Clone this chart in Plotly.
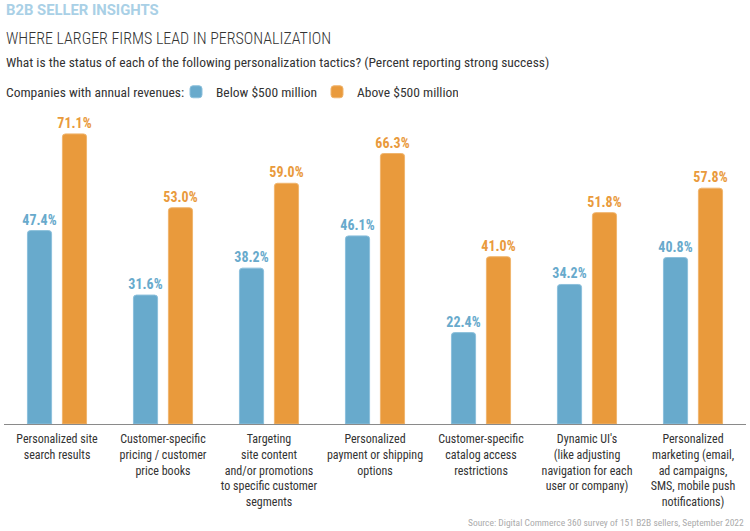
import plotly.graph_objects as go

categories = [
    "Personalized site<br>search results",
    "Customer-specific<br>pricing / customer<br>price books",
    "Targeting<br>site content<br>and/or promotions<br>to specific customer<br>segments",
    "Personalized<br>payment or shipping<br>options",
    "Customer-specific<br>catalog access<br>restrictions",
    "Dynamic UI's<br>(like adjusting<br>navigation for each<br>user or company)",
    "Personalized<br>marketing (email,<br>ad campaigns,<br>SMS, mobile push<br>notifications)",
]
below_500m = [47.4, 31.6, 38.2, 46.1, 22.4, 34.2, 40.8]
above_500m = [71.1, 53.0, 59.0, 66.3, 41.0, 51.8, 57.8]

BLUE = "#68aacc"
ORANGE = "#e99a3c"
FONT = "Roboto Condensed, DejaVu Sans Condensed, sans-serif"

fig = go.Figure()
fig.add_trace(go.Bar(
    x=categories, y=below_500m, name="Below $500 million",
    marker=dict(color=BLUE, line=dict(color="#8cc0dc", width=1)),
    text=[f"{v:.1f}%" for v in below_500m], textposition="outside",
    textfont=dict(family=FONT, size=14, color=BLUE, weight="bold"),
    constraintext="none", cliponaxis=False,
))
fig.add_trace(go.Bar(
    x=categories, y=above_500m, name="Above $500 million",
    marker=dict(color=ORANGE, line=dict(color="#f0b56e", width=1)),
    text=[f"{v:.1f}%" for v in above_500m], textposition="outside",
    textfont=dict(family=FONT, size=14, color=ORANGE, weight="bold"),
    constraintext="none", cliponaxis=False,
))

fig.update_layout(
    width=750, height=531,
    margin=dict(l=4, r=4, t=118, b=107),
    paper_bgcolor="white", plot_bgcolor="white",
    barmode="group", bargap=0.34, bargroupgap=0.31, barcornerradius=3,
    font=dict(family=FONT, color="#333333"),
    showlegend=True,
    legend=dict(
        orientation="h", xref="container", yref="container",
        x=176 / 750, y=1 - 92 / 531, xanchor="left", yanchor="middle",
        font=dict(size=13.5, color="#333333", family=FONT),
        bgcolor="rgba(0,0,0,0)", itemwidth=30,
        entrywidth=96, entrywidthmode="pixels",
    ),
    xaxis=dict(
        showline=True, linecolor="#8a8a8a", linewidth=1,
        ticks="", tickangle=0, ticklabelstandoff=4,
        tickfont=dict(size=12, color="#333333", family=FONT),
        showgrid=False, fixedrange=True,
    ),
    yaxis=dict(range=[0, 75], visible=False, showgrid=False, fixedrange=True),
)

def py(p):
    return (424 - p) / 306

annotations = [
    dict(text="<b>B2B SELLER INSIGHTS</b>", x=0, y=py(10),
         font=dict(size=14.8, color="#a9d0e6", family="Roboto, sans-serif")),
    dict(text="WHERE LARGER FIRMS LEAD IN PERSONALIZATION", x=0, y=py(38),
         font=dict(size=16, color="#333333", family=FONT, weight=300)),
    dict(text="What is the status of each of the following personalization tactics? (Percent reporting strong success)",
         x=0, y=py(62), font=dict(size=13.5, color="#333333", family=FONT)),
    dict(text="Companies with annual revenues:", x=0, y=py(92),
         font=dict(size=13.5, color="#333333", family=FONT)),
    dict(text="Source: Digital Commerce 360 survey of 151 B2B sellers, September 2022", x=1, xanchor="right",
         y=py(522), font=dict(size=9.5, color="#ababab", family=FONT)),
]
for a in annotations:
    a.setdefault("xanchor", "left")
    fig.add_annotation(xref="paper", yref="paper", yanchor="middle", showarrow=False, align="left", **a)

fig.write_html("out.html", config={"displayModeBar": False},
               post_script="document.body.style.margin='0';")
